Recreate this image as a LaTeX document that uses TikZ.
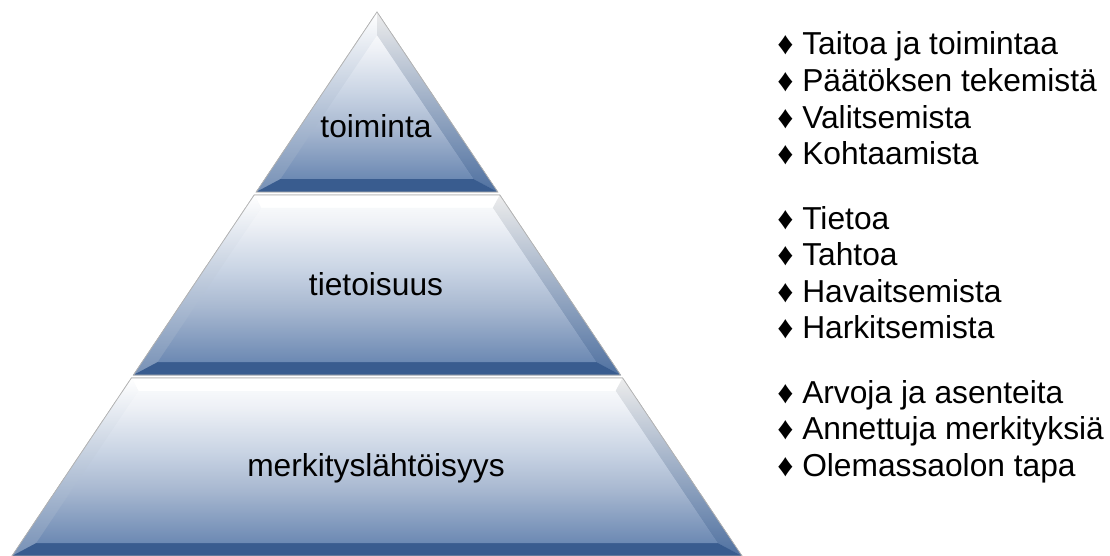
\documentclass[tikz,border=0pt]{standalone}
\usepackage{fontspec}
\setmainfont{Liberation Sans}
\usetikzlibrary{calc}
\definecolor{tierblue}{HTML}{3C6196}
\definecolor{tierdeep}{HTML}{6C89B3}
\definecolor{tiermid}{HTML}{A9B9D1}
\definecolor{tierpale}{HTML}{C9D4E4}
\definecolor{tierwhite}{HTML}{EEF1F6}
\definecolor{bevelsky}{HTML}{D2E3F7}
\pgfdeclareverticalshading{tiershade}{100bp}{color(0bp)=(tierblue); color(9bp)=(tierblue!85!tierdeep);
  color(25bp)=(tierdeep); color(43bp)=(tiermid); color(55bp)=(tierpale); color(70bp)=(tierwhite);
  color(80bp)=(white); color(100bp)=(white)}

\begin{document}
\begin{tikzpicture}[
      x=0.75pt, y=-0.75pt,
      tier/.style={shading=tiershade, draw=gray!60, line width=0.5pt},
      face/.style={shading=tiershade},
      leftbevel/.style={top color=white, middle color=bevelsky, bottom color=tierblue!70!white},
      rightbevel/.style={top color=gray!15, middle color=bevelsky!70!white, bottom color=tierblue!90!white},
      tierlabel/.style={font=\fontsize{23.8}{27.4}\selectfont, anchor=base, inner sep=0pt},
      listitem/.style={font=\fontsize{23.8}{27.4}\selectfont, anchor=base west, inner sep=0pt},
    ]
    \useasboundingbox (0,0) rectangle (1110,556);

    % three tiers of the pyramid
    \foreach \nm/\yt/\yb/\txt/\yl in {top/12/192/toiminta/138, mid/195/375/tietoisuus/295,
        base/378/556/merkityslähtöisyys/476}{
      \pgfmathsetmacro\wt{0.671*(\yt-12)}
      \pgfmathsetmacro\wb{0.671*(\yb-12)}
      \pgfmathsetmacro\it{max(\yt+13,35.4)}
      \pgfmathsetmacro\ib{\yb-13}
      \pgfmathsetmacro\iwt{0.671*(\it-12)-15.7}
      \pgfmathsetmacro\iwb{0.671*(\ib-12)-15.7}
      \coordinate (\nm-tl) at (377-\wt,\yt);
      \coordinate (\nm-tr) at (377+\wt,\yt);
      \coordinate (\nm-br) at (377+\wb,\yb);
      \coordinate (\nm-bl) at (377-\wb,\yb);
      \coordinate (\nm-itl) at (377-\iwt,\it);
      \coordinate (\nm-itr) at (377+\iwt,\it);
      \coordinate (\nm-ibr) at (377+\iwb,\ib);
      \coordinate (\nm-ibl) at (377-\iwb,\ib);
      \shade[tier] (\nm-tl) -- (\nm-tr) -- (\nm-br) -- (\nm-bl) -- cycle;
      \fill[white] (\nm-tl) -- (\nm-tr) -- (\nm-itr) -- (\nm-itl) -- cycle;
      \shade[leftbevel] (\nm-tl) -- (\nm-itl) -- (\nm-ibl) -- (\nm-bl) -- cycle;
      \shade[rightbevel] (\nm-tr) -- (\nm-br) -- (\nm-ibr) -- (\nm-itr) -- cycle;
      \fill[tierblue!95!black] (\nm-bl) -- (\nm-ibl) -- (\nm-ibr) -- (\nm-br) -- cycle;
      \shade[face] (\nm-itl) -- (\nm-itr) -- (\nm-ibr) -- (\nm-ibl) -- cycle;
      \draw[gray!60, line width=0.5pt] (\nm-tl) -- (\nm-tr) -- (\nm-br) -- (\nm-bl) -- cycle;
      \node[tierlabel] (\nm) at (376,\yl) {\txt};
    }

    % bullet lists
    \foreach \txt [count=\i from 0] in {Taitoa ja toimintaa, Päätöksen tekemistä, Valitsemista, Kohtaamista}
      \node[listitem] (act-\i) at (777, 55+36.6*\i) {♦ \txt};
    \foreach \txt [count=\i from 0] in {Tietoa, Tahtoa, Havaitsemista, Harkitsemista}
      \node[listitem] (aware-\i) at (777, 229+36.6*\i) {♦ \txt};
    \foreach \txt [count=\i from 0] in {Arvoja ja asenteita, Annettuja merkityksiä, Olemassaolon tapa}
      \node[listitem] (mean-\i) at (777, 403+36.6*\i) {♦ \txt};
  \end{tikzpicture}
\end{document}
